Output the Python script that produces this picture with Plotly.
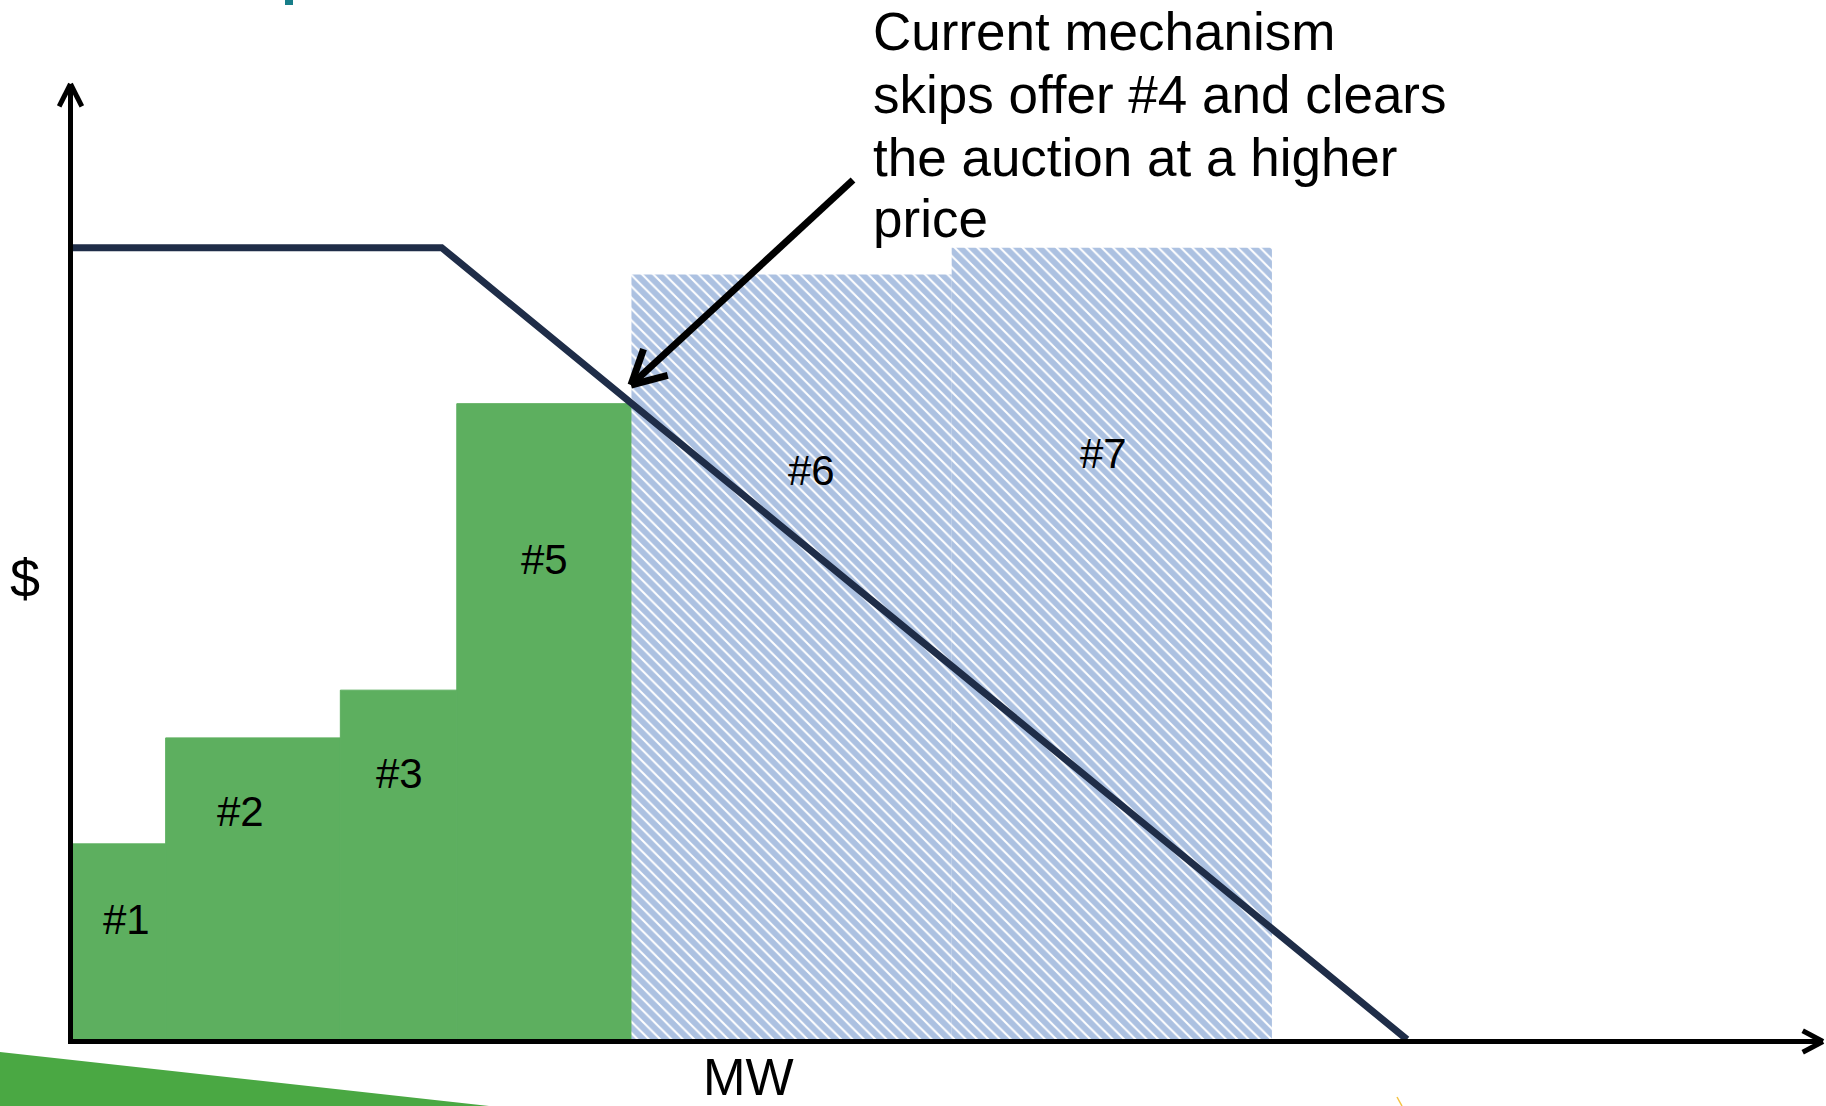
import math
import plotly.graph_objects as go

# ---------------- data ----------------
offer_labels = ["#1", "#2", "#3", "#5", "#6", "#7"]
offer_mw = [8, 15, 10, 15, 27.5, 27.5]          # offer quantity (MW)
offer_price = [16.8, 25.9, 30, 54.6, 65.7, 68]  # offer price ($)
offer_cleared = [True, True, True, True, False, False]

demand_mw = [0, 31.7, 114.6]
demand_price = [68, 68, 0]

# label positions (data units)
label_x = [4.6, 14.4, 28.1, 40.5, 63.5, 88.5]
label_y = [10.3, 19.6, 22.8, 41.2, 48.9, 50.3]

callout_lines = ["Current mechanism", "skips offer #4 and clears",
                 "the auction at a higher", "price"]

# ---------------- geometry helpers ----------------
W, H = 1826, 1106
X0PX, Y0PX, S = 72.5, 1039.5, 11.645   # pixel of origin, px per unit

def px2x(px):
    return (px - X0PX) / S

def px2y(py):
    return (Y0PX - py) / S

x_range = [px2x(0), px2x(W)]
y_range = [px2y(H), px2y(0)]

FONT = "Liberation Sans, Arial, sans-serif"
GREEN = "#5daf5f"

fig = go.Figure()

# bars
left = 0.0
centers = []
for w in offer_mw:
    centers.append(left + w / 2)
    left += w

green_x = [c for c, k in zip(centers, offer_cleared) if k]
green_y = [p for p, k in zip(offer_price, offer_cleared) if k]
green_w = [w for w, k in zip(offer_mw, offer_cleared) if k]
hatch_x = [c for c, k in zip(centers, offer_cleared) if not k]
hatch_y = [p for p, k in zip(offer_price, offer_cleared) if not k]
hatch_w = [w for w, k in zip(offer_mw, offer_cleared) if not k]

fig.add_trace(go.Bar(x=green_x, y=green_y, width=green_w,
                     marker=dict(color=GREEN, line=dict(width=1, color=GREEN)),
                     hoverinfo="skip"))
fig.add_trace(go.Bar(x=hatch_x, y=hatch_y, width=hatch_w,
                     marker=dict(color="white", line=dict(width=0),
                                 pattern=dict(shape="\\", fgcolor="#5a84c4",
                                              bgcolor="white", size=8,
                                              solidity=0.75)),
                     hoverinfo="skip"))

# demand curve
fig.add_trace(go.Scatter(x=demand_mw, y=demand_price, mode="lines",
                         line=dict(color="#1f2d48", width=7),
                         hoverinfo="skip"))

shapes = []

def seg(p1, p2, color="black", width=5):
    shapes.append(dict(type="line", xref="x", yref="y",
                       x0=px2x(p1[0]), y0=px2y(p1[1]),
                       x1=px2x(p2[0]), y1=px2y(p2[1]),
                       line=dict(color=color, width=width), layer="above"))

def chevron(tip, toward, length, ang_deg, color="black", width=5):
    dx, dy = toward[0] - tip[0], toward[1] - tip[1]
    n = math.hypot(dx, dy)
    ux, uy = dx / n, dy / n
    for s in (1, -1):
        a = math.radians(ang_deg * s)
        rx = ux * math.cos(a) - uy * math.sin(a)
        ry = ux * math.sin(a) + uy * math.cos(a)
        seg(tip, (tip[0] + rx * length, tip[1] + ry * length), color, width)

# axes with open arrowheads
seg((70.5, 1044), (70.5, 84))
chevron((70.5, 84), (70.5, 1000), 25, 27)
seg((68, 1041.5), (1823, 1041.5))
chevron((1823, 1041.5), (1000, 1041.5), 23, 28)

# callout arrow
tail, tip = (853, 180), (631, 385)
seg(tail, tip, width=7)
chevron(tip, tail, 38, 28, width=7)

# decorative slide elements
shapes.append(dict(type="path", xref="paper", yref="paper",
                   path=f"M 0 {1 - 1052 / H} L {489 / W} 0 L 0 0 Z",
                   fillcolor="#4aa843", line=dict(width=0), layer="above"))
shapes.append(dict(type="rect", xref="paper", yref="paper",
                   x0=285 / W, x1=293 / W, y0=1 - 5 / H, y1=1,
                   fillcolor="#177e89", line=dict(width=0)))
shapes.append(dict(type="line", xref="paper", yref="paper",
                   x0=1397 / W, y0=1 - 1097 / H, x1=1402 / W, y1=0,
                   line=dict(color="#f5c342", width=1.5)))

annotations = []
for lab, lx, ly in zip(offer_labels, label_x, label_y):
    annotations.append(dict(x=lx, y=ly, xref="x", yref="y", text=lab,
                            showarrow=False, xanchor="center", yanchor="middle",
                            font=dict(family=FONT, size=42, color="black")))

line_centers_px = [32, 95, 157, 219]
for t, cy in zip(callout_lines, line_centers_px):
    annotations.append(dict(x=871 / W, y=1 - cy / H, xref="paper", yref="paper",
                            text=t, showarrow=False, xanchor="left",
                            yanchor="middle",
                            font=dict(family=FONT, size=53, color="black")))

annotations.append(dict(x=24.5 / W, y=1 - 578 / H, xref="paper", yref="paper",
                        text="$", showarrow=False, xanchor="center",
                        yanchor="middle",
                        font=dict(family=FONT, size=54, color="black")))
annotations.append(dict(x=748 / W, y=1 - 1077 / H, xref="paper", yref="paper",
                        text="MW", showarrow=False, xanchor="center",
                        yanchor="middle",
                        font=dict(family=FONT, size=51, color="black")))

fig.update_layout(
    width=W, height=H,
    margin=dict(l=0, r=0, t=0, b=0),
    paper_bgcolor="white", plot_bgcolor="white",
    showlegend=False, barmode="overlay",
    xaxis=dict(range=x_range, visible=False, fixedrange=True),
    yaxis=dict(range=y_range, visible=False, fixedrange=True),
    shapes=shapes, annotations=annotations,
)

fig.write_html("out.html", config={"displayModeBar": False})
